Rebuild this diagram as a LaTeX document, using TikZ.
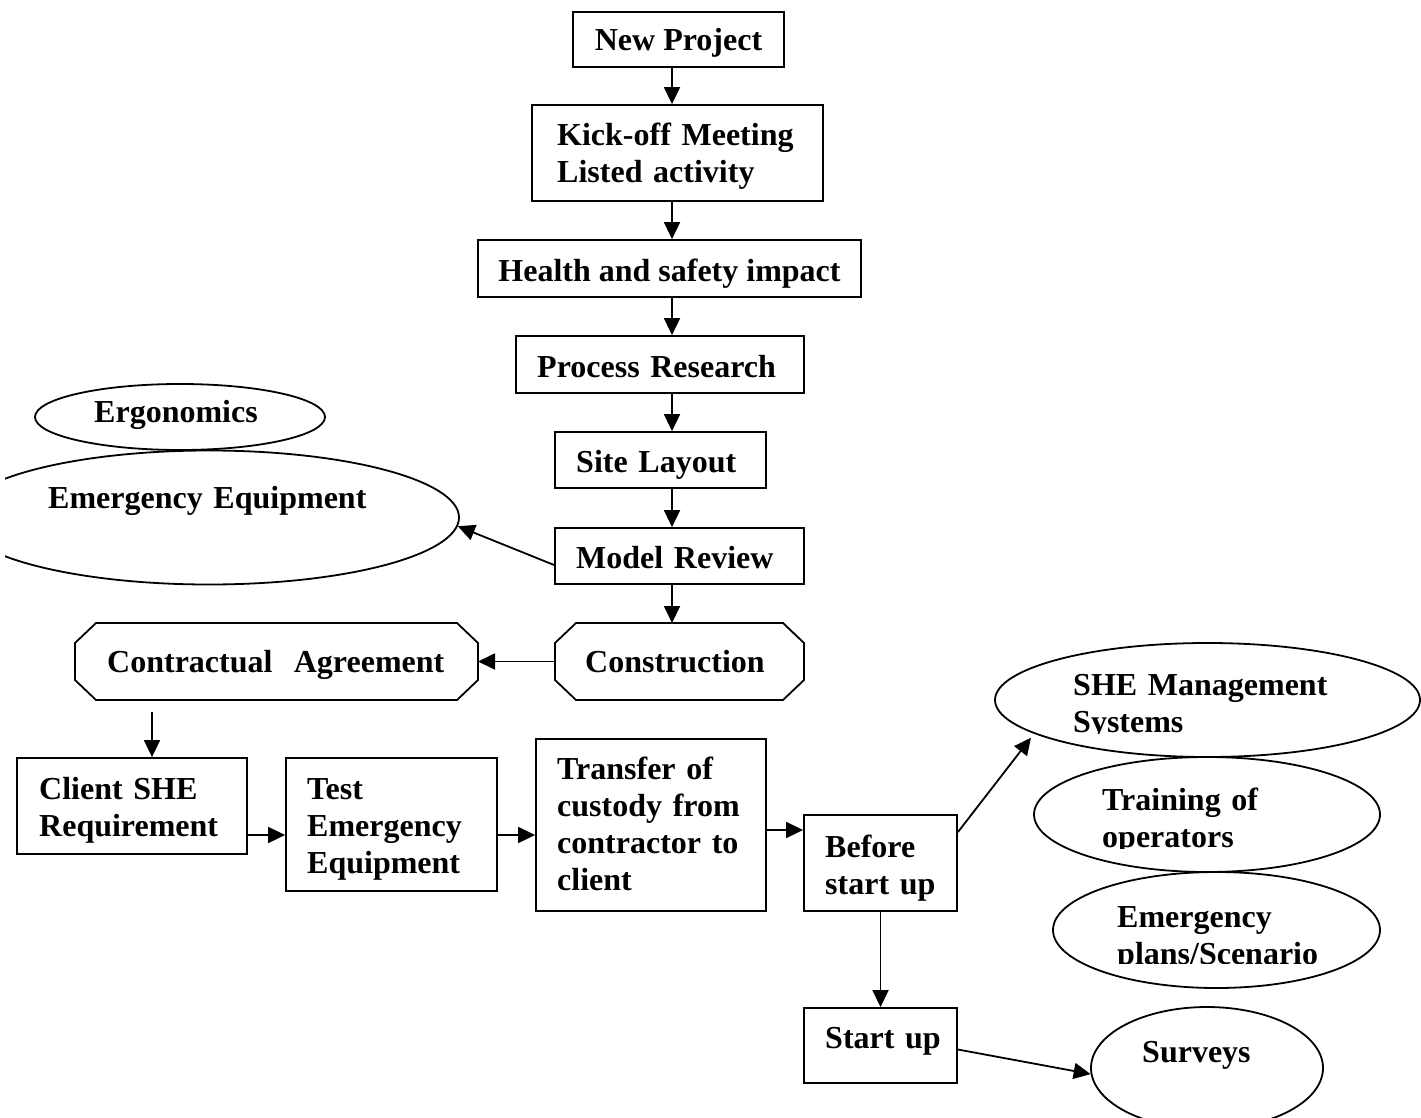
\documentclass[tikz,border=0pt]{standalone}
\usepackage{fontspec}
\setmainfont{Liberation Serif}
\usetikzlibrary{arrows.meta,calc,shapes.geometric}
\begin{document}
\begin{tikzpicture}[x=1pt,y=-1pt,
  txt/.style={font=\fontsize{32}{37}\selectfont\bfseries},
  outline/.style={line width=1.8pt},
  box/.style={draw,outline,rectangle,inner sep=0pt},
  area/.style={rectangle,inner sep=0pt,outer sep=0pt},
  ell/.style={draw,outline,ellipse,inner sep=0pt},
  ltext/.style={txt,anchor=base west,inner sep=0pt,align=left,text width=400pt},
  ctext/.style={txt,anchor=base,inner sep=0pt,align=center},
  arr/.style={outline,-{Triangle[length=17pt,width=16pt]}},
]
\useasboundingbox (0,0) rectangle (1421,1118);
\coordinate (spine) at (672,0);

% main column
\node[box,minimum width=211pt,minimum height=55pt] (newp) at (678.5,39.5) {};
\node[ctext] (newpt) at (678.5,51) {New Project};
\node[box,minimum width=291pt,minimum height=96pt] (kick) at (677.5,153) {};
\node[ltext] (kickt) at (557,146) {Kick-off Meeting\\Listed activity};
\node[box,minimum width=383pt,minimum height=57pt] (health) at (669.5,268.5) {};
\node[ctext] (healtht) at (669.5,281) {Health and safety impact};
\node[box,minimum width=288pt,minimum height=57pt] (process) at (660,364.5) {};
\node[ltext] (processt) at (537,377) {Process Research};
\node[box,minimum width=211pt,minimum height=56pt] (site) at (660.5,460) {};
\node[ltext] (sitet) at (576,472) {Site Layout};
\node[box,minimum width=249pt,minimum height=56pt] (model) at (679.5,556) {};
\node[ltext] (modelt) at (576,568) {Model Review};

% octagons
\node[area,minimum width=249pt,minimum height=77pt] (constr) at (679.5,661.5) {};
\draw[outline] ($(constr.north west)+(21,0)$) -- ($(constr.north east)+(-21,0)$) -- ($(constr.north east)+(0,20)$) -- ($(constr.south east)+(0,-20)$) -- ($(constr.south east)+(-21,0)$) -- ($(constr.south west)+(21,0)$) -- ($(constr.south west)+(0,-20)$) -- ($(constr.north west)+(0,20)$) -- cycle;
\node[ltext] (constrt) at (585,672) {Construction};
\node[area,minimum width=403pt,minimum height=77pt] (contract) at (276.5,661.5) {};
\draw[outline] ($(contract.north west)+(21,0)$) -- ($(contract.north east)+(-21,0)$) -- ($(contract.north east)+(0,20)$) -- ($(contract.south east)+(0,-20)$) -- ($(contract.south east)+(-21,0)$) -- ($(contract.south west)+(21,0)$) -- ($(contract.south west)+(0,-20)$) -- ($(contract.north west)+(0,20)$) -- cycle;
\node[ltext] (contractt) at (107,672) {Contractual\ \ Agreement};

% lower row
\node[box,minimum width=230pt,minimum height=96pt] (client) at (132,806) {};
\node[ltext] (clientt) at (39,799) {Client SHE\\Requirement};
\node[box,minimum width=211pt,minimum height=133pt] (test) at (391.5,824.5) {};
\node[ltext] (testt) at (307,799) {Test\\Emergency\\Equipment};
\node[box,minimum width=230pt,minimum height=172pt] (transfer) at (651,825) {};
\node[ltext] (transfert) at (557,779) {Transfer of\\custody from\\contractor to\\client};
\node[box,minimum width=153pt,minimum height=96pt] (before) at (880.5,863) {};
\node[ltext] (beforet) at (825,857) {Before\\start up};
\node[box,minimum width=153pt,minimum height=75pt] (startup) at (880.5,1045.5) {};
\node[ltext] (startupt) at (825,1048) {Start up};

% ellipses
\node[ell,minimum width=290pt,minimum height=66pt] (ergo) at (180,417) {};
\node[ltext] (ergot) at (94,422) {Ergonomics};
\begin{scope}
  \clip (5,0) rectangle (1421,1118);
  \node[ell,minimum width=500pt,minimum height=134pt] (eeq) at (209,517.5) {};
\end{scope}
\node[ltext] (eeqt) at (48,508) {Emergency Equipment};

\node[ell,minimum width=425pt,minimum height=114pt] (she) at (1207.5,700) {};
\begin{scope}
  \clip (990,600) rectangle (1421,733);
  \node[ltext] (shet) at (1073,695) {SHE Management\\Systems};
\end{scope}
\node[ell,minimum width=346pt,minimum height=115pt] (train) at (1207,814.5) {};
\begin{scope}
  \clip (990,760) rectangle (1421,848);
  \node[ltext] (traint) at (1102,810) {Training of\\operators};
\end{scope}
\node[ell,minimum width=327pt,minimum height=116pt] (eplan) at (1216.5,930) {};
\begin{scope}
  \clip (990,875) rectangle (1421,963);
  \node[ltext] (eplant) at (1117,927) {Emergency\\plans/Scenario};
\end{scope}
\node[ell,minimum width=232pt,minimum height=122pt] (surv) at (1207,1068) {};
\node[ltext] (survt) at (1142,1062) {Surveys};

% connectors
\draw[arr] (newp.south -| spine) -- (kick.north -| spine);
\draw[arr] (kick.south -| spine) -- (health.north -| spine);
\draw[arr] (health.south -| spine) -- (process.north -| spine);
\draw[arr] (process.south -| spine) -- (site.north -| spine);
\draw[arr] (site.south -| spine) -- (model.north -| spine);
\draw[arr] (model.south -| spine) -- (constr.north -| spine);
\draw[arr] ($(model.west)+(0,9)$) -- (eeq.-2.5);
\draw[arr] (constr.west) -- (contract.east);
\coordinate (cfree) at (152,712);
\draw[arr] (cfree) -- (cfree |- client.north);
\coordinate (a1) at ($(client.east)+(0,29)$);
\draw[arr] (a1) -- (a1 -| test.west);
\coordinate (a2) at ($(test.east)+(0,10.5)$);
\draw[arr] (a2) -- (a2 -| transfer.west);
\coordinate (a3) at ($(transfer.east)+(0,5)$);
\draw[arr] (a3) -- (a3 -| before.west);
\draw[arr,shorten >=5pt] ($(before.north east)+(0,18)$) -- (she.191.6);
\draw[arr] (before.south) -- (startup.north);
\draw[arr] ($(startup.east)+(0,4)$) -- (surv.183.5);
\end{tikzpicture}
\end{document}
